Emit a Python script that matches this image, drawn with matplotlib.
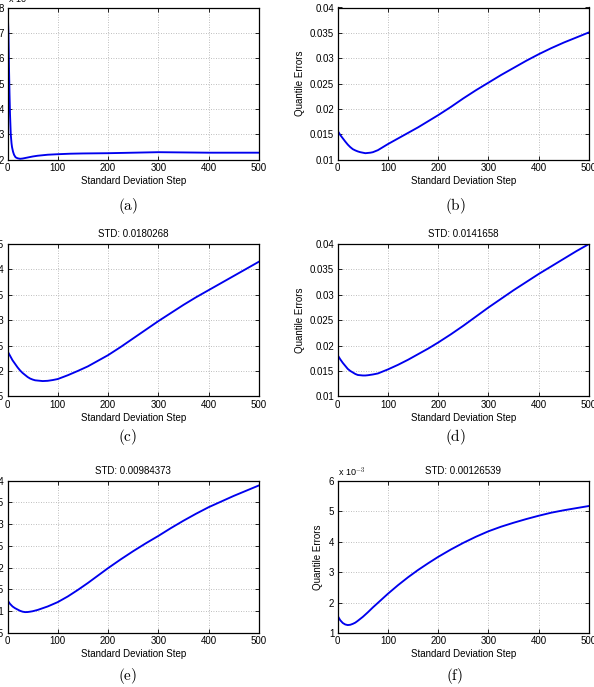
import matplotlib
matplotlib.use("Agg")
import matplotlib.pyplot as plt

plt.rcParams['font.family'] = ['Liberation Sans', 'DejaVu Sans']
plt.rcParams['mathtext.fontset'] = 'cm'

# ---- data ----
xa = [0, 1, 2, 3, 4, 5, 6.5, 8, 9, 11, 13, 16, 20, 25, 30, 40, 50, 60, 70, 80, 90, 100, 125, 150, 200, 250, 300, 350, 400, 450, 500]
ya = [7.7, 7.5, 6.9, 5.6, 4.6, 3.8, 3.0, 2.65, 2.5, 2.32, 2.2, 2.1, 2.06, 2.04, 2.05, 2.09, 2.13, 2.16, 2.18, 2.2, 2.21, 2.22, 2.24, 2.25, 2.26, 2.28, 2.30, 2.29, 2.28, 2.28, 2.28]

xb = [0, 5, 10, 15, 20, 25, 30, 35, 40, 45, 50, 55, 60, 65, 70, 80, 90, 100, 120, 140, 160, 180, 200, 225, 250, 275, 300, 325, 350, 375, 400, 425, 450, 475, 500]
yb = [0.0157, 0.0149, 0.01425, 0.0136, 0.0130, 0.0125, 0.0121, 0.01185, 0.01165, 0.0115, 0.0114, 0.0113, 0.01135, 0.0114, 0.0115,
      0.0119, 0.0125, 0.0131, 0.0142, 0.0153, 0.0164, 0.0176, 0.0188, 0.0204, 0.0221, 0.0237, 0.0252, 0.0267, 0.0281, 0.0295,
      0.0308, 0.0320, 0.0331, 0.0341, 0.0351]

xc = [0, 5, 10, 15, 20, 25, 30, 35, 40, 45, 50, 55, 60, 70, 80, 90, 100, 120, 140, 160, 180, 200, 225, 250, 275, 300, 325, 350, 375, 400, 425, 450, 475, 500]
yc = [0.0239, 0.0230, 0.0221, 0.0214, 0.0207, 0.0201, 0.0196, 0.0192, 0.0188, 0.0185, 0.0183, 0.01815, 0.0181, 0.0180, 0.01805,
      0.0182, 0.0184, 0.01915, 0.0200, 0.0209, 0.0220, 0.0231, 0.0247, 0.0264, 0.0281, 0.0298, 0.0314, 0.0330, 0.0345, 0.0359,
      0.0373, 0.0387, 0.0401, 0.0415]

xd = [0, 5, 10, 15, 20, 25, 30, 35, 40, 45, 50, 55, 60, 70, 80, 90, 100, 120, 140, 160, 180, 200, 225, 250, 275, 300, 325, 350, 375, 400, 425, 450, 475, 500]
yd = [0.0181, 0.0173, 0.0166, 0.0160, 0.0154, 0.0150, 0.0147, 0.0144, 0.0142, 0.01415, 0.0141, 0.0141, 0.01415, 0.0143, 0.0145,
      0.0149, 0.0153, 0.0162, 0.0172, 0.0183, 0.0194, 0.0206, 0.0222, 0.0239, 0.0257, 0.0275, 0.0292, 0.0309, 0.0325, 0.0341,
      0.0356, 0.0371, 0.0386, 0.0400]

xe = [0, 5, 10, 15, 20, 25, 30, 35, 40, 45, 50, 60, 70, 80, 90, 100, 120, 140, 160, 180, 200, 225, 250, 275, 300, 325, 350, 375, 400, 425, 450, 475, 500]
ye = [0.0125, 0.0117, 0.0111, 0.0107, 0.0104, 0.0101, 0.0099, 0.0098, 0.00982, 0.0099, 0.0100, 0.0103, 0.0107, 0.0111, 0.0116,
      0.0121, 0.0134, 0.0149, 0.0165, 0.0182, 0.0199, 0.0219, 0.0238, 0.0256, 0.0273, 0.0291, 0.0308, 0.0324, 0.0339, 0.0352,
      0.0365, 0.0377, 0.0389]

xf = [0, 5, 10, 15, 20, 25, 30, 35, 40, 50, 60, 70, 80, 90, 100, 120, 140, 160, 180, 200, 225, 250, 275, 300, 325, 350, 375, 400, 425, 450, 475, 500]
yf = [1.56, 1.42, 1.33, 1.28, 1.26, 1.27, 1.30, 1.34, 1.40, 1.53, 1.68, 1.84, 1.99, 2.14, 2.29, 2.57, 2.83, 3.07, 3.29, 3.50,
      3.74, 3.96, 4.16, 4.34, 4.49, 4.62, 4.74, 4.85, 4.95, 5.03, 5.10, 5.17]

titles = ["", "", "STD: 0.0180268", "STD: 0.0141658", "STD: 0.00984373", "STD: 0.00126539"]
captions = ["(a)", "(b)", "(c)", "(d)", "(e)", "(f)"]
ylims = [(2, 8), (0.01, 0.04), (0.015, 0.045), (0.01, 0.04), (0.005, 0.04), (1, 6)]
yticks = [[2, 3, 4, 5, 6, 7, 8],
          [0.01, 0.015, 0.02, 0.025, 0.03, 0.035, 0.04],
          [0.015, 0.02, 0.025, 0.03, 0.035, 0.04, 0.045],
          [0.01, 0.015, 0.02, 0.025, 0.03, 0.035, 0.04],
          [0.005, 0.01, 0.015, 0.02, 0.025, 0.03, 0.035, 0.04],
          [1, 2, 3, 4, 5, 6]]
xticks = [0, 100, 200, 300, 400, 500]
series = [(xa, ya), (xb, yb), (xc, yc), (xd, yd), (xe, ye), (xf, yf)]
exponents = ["x 10$^{-3}$", None, None, None, None, "x 10$^{-3}$"]

W, H = 594, 687
fig = plt.figure(figsize=(W / 100, H / 100), dpi=100)

col_left = [7.5, 337.7]
row_top = [7.5, 244, 480.7]
aw, ah = 251.3, 152.3
cap_y = [206, 437, 676]
cap_x = [128, 455]

for i in range(6):
    r, c = divmod(i, 2)
    x0 = col_left[c]
    y0 = row_top[r]
    ax = fig.add_axes([x0 / W, 1 - (y0 + ah) / H, aw / W, ah / H])
    xs, ys = series[i]
    ax.plot(xs, ys, color='#0000ee', lw=1.35, solid_joinstyle='round')
    ax.set_xlim(0, 500)
    ax.set_ylim(*ylims[i])
    ax.set_xticks(xticks)
    ax.set_yticks(yticks[i])
    ax.set_yticklabels([('%g' % v) for v in yticks[i]])
    ax.tick_params(direction='in', length=3, width=0.6, labelsize=7, pad=2.5,
                   top=True, right=True, colors='black')
    ax.grid(True, linestyle=(0, (1, 2)), color='#a8a8a8', lw=0.6)
    for s in ax.spines.values():
        s.set_linewidth(0.9)
    ax.set_xlabel("Standard Deviation Step", fontsize=7, labelpad=2)
    if c == 1:
        ax.set_ylabel("Quantile Errors", fontsize=7, labelpad=4)
    if titles[i]:
        ax.set_title(titles[i], fontsize=7, pad=5)
    if exponents[i]:
        ax.text(0.0, 1.01, exponents[i], transform=ax.transAxes, fontsize=6.5,
                ha='left', va='bottom')
    fig.text(cap_x[c] / W, 1 - cap_y[r] / H, r'$\mathrm{%s}$' % captions[i],
             fontsize=11, ha='center', va='center')

fig.savefig("out.png", dpi=100)
